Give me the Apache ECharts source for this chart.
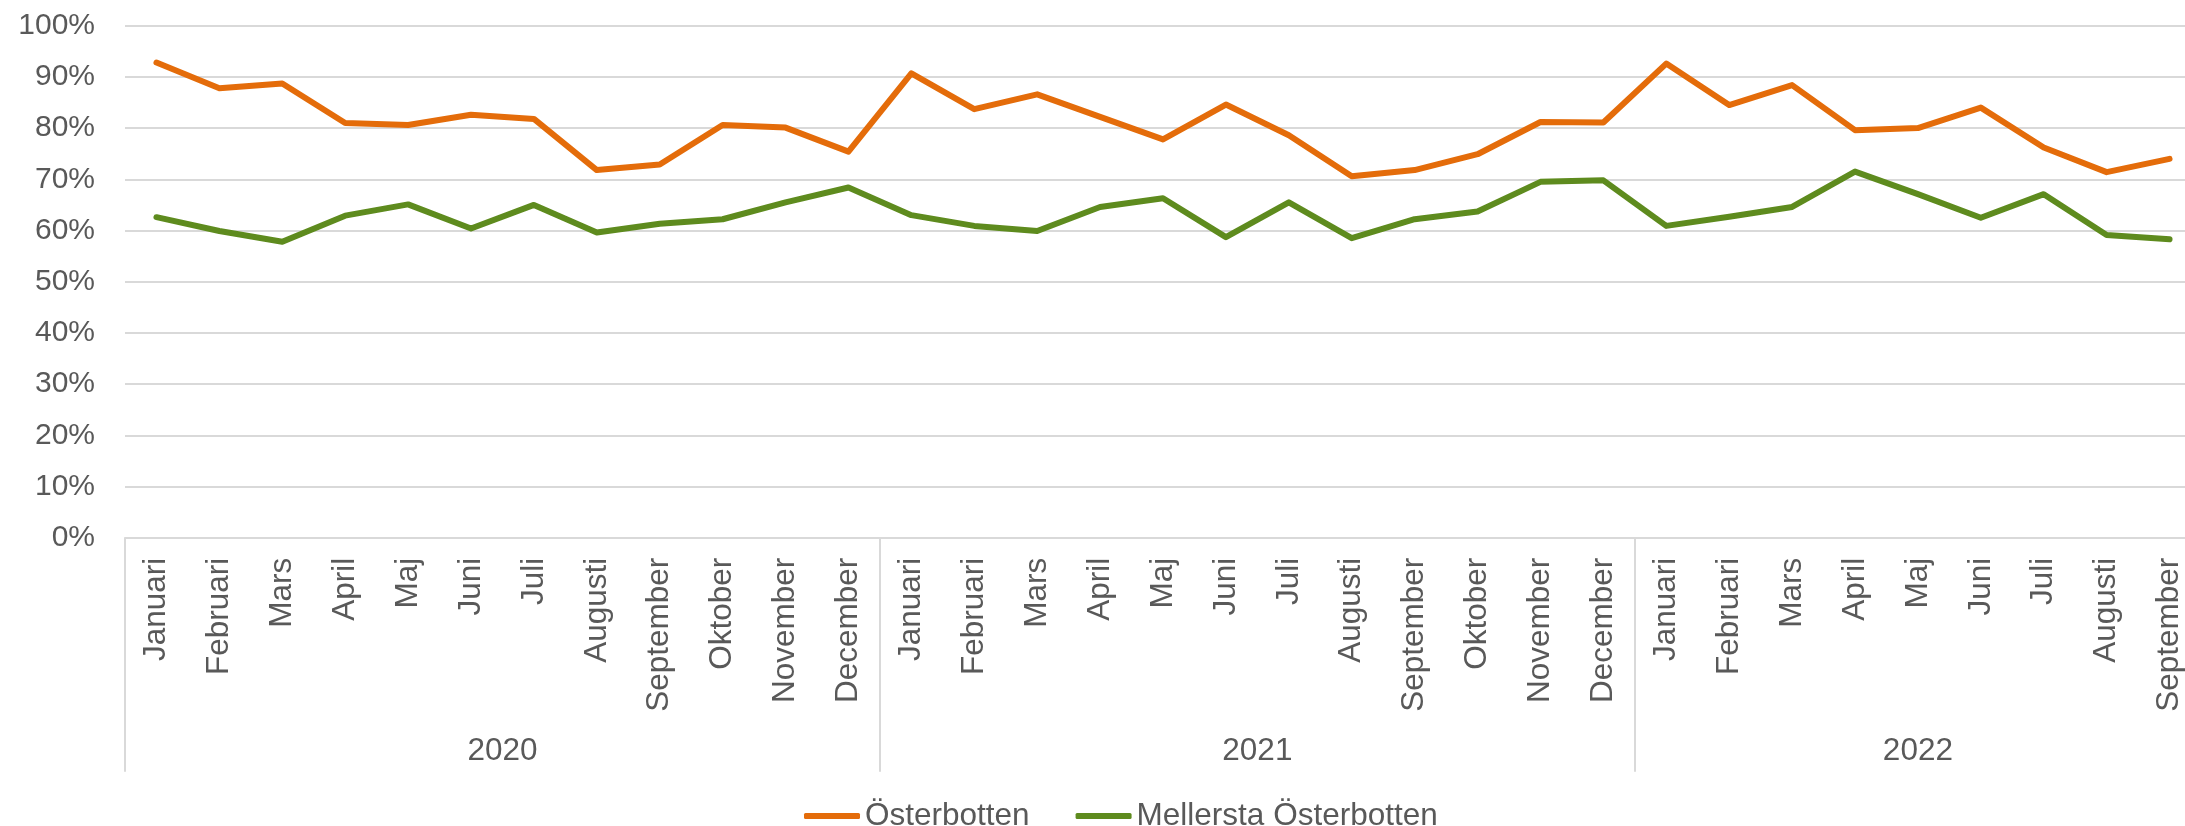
<!DOCTYPE html>
<html>
<head>
<meta charset="utf-8">
<script src="https://cdn.jsdelivr.net/npm/echarts@6/dist/echarts.min.js"></script>
<style>
html,body{margin:0;padding:0;background:#fff;overflow:hidden;width:2185px;height:826px;}
#chart{width:2201px;height:826px;}
</style>
</head>
<body>
<div id="chart"></div>
<script>
var monthNames = ['Januari','Februari','Mars','April','Maj','Juni','Juli','Augusti','September','Oktober','November','December'];
var years = ['2020','2021','2022'];
var monthsPerYear = [12, 12, 9];
var yTicks = [0,10,20,30,40,50,60,70,80,90,100];

var osterbotten = [92.8,87.8,88.7,81.0,80.6,82.6,81.8,71.8,72.9,80.6,80.1,75.4,
                   90.7,83.7,86.6,82.2,77.8,84.6,78.6,70.6,71.8,74.9,81.2,81.1,
                   92.6,84.5,88.4,79.6,80.0,84.0,76.2,71.4,74.0];
var mellersta   = [62.6,59.9,57.8,62.9,65.1,60.4,65.0,59.6,61.3,62.2,65.5,68.4,
                   63.0,60.9,59.9,64.6,66.3,58.7,65.5,58.5,62.2,63.7,69.5,69.8,
                   60.9,62.7,64.6,71.5,67.1,62.5,67.1,59.1,58.3];

var categories = [];
var yearStarts = [];
var yearCenters = [];
var pos = 0;
for (var y = 0; y < years.length; y++) {
  yearStarts.push(pos);
  yearCenters.push(pos + monthsPerYear[y] / 2);
  for (var m = 0; m < monthsPerYear[y]; m++) categories.push(monthNames[m]);
  pos += monthsPerYear[y];
}
var totalSlots = pos;

var FONT = '"Liberation Sans", Arial, sans-serif';
var TXT = '#595959';
var GRID = '#d9d9d9';

var chart = echarts.init(document.getElementById('chart'), null, {renderer: 'canvas'});
chart.setOption({
  animation: false,
  backgroundColor: '#ffffff',
  textStyle: {fontFamily: FONT},
  grid: {left: 125, top: 25.7, right: 0, bottom: 288.3, containLabel: false},
  legend: {
    left: 799, top: 795,
    itemWidth: 56, itemHeight: 6, itemGap: 46,
    icon: 'roundRect',
    textStyle: {color: TXT, fontSize: 31.5, fontFamily: FONT},
    data: ['Österbotten', 'Mellersta Österbotten']
  },
  xAxis: [{
    type: 'category',
    data: categories,
    boundaryGap: true,
    axisLine: {show: true, lineStyle: {color: GRID, width: 2}},
    axisTick: {show: false},
    axisLabel: {interval: 0, rotate: 90, margin: 20, color: TXT, fontSize: 31.5, fontFamily: FONT}
  }, {
    type: 'value',
    position: 'bottom',
    min: 0, max: totalSlots,
    axisLine: {show: false},
    splitLine: {show: false},
    axisTick: {show: true, customValues: yearStarts, length: 234, lineStyle: {color: GRID, width: 2}},
    axisLabel: {
      customValues: [yearCenters[0], yearCenters[1], yearStarts[2] + 4.5],
      margin: 198,
      color: TXT, fontSize: 31.5, fontFamily: FONT,
      formatter: function (v) {
        return years[Math.min(years.length - 1, Math.floor(v / 12))];
      }
    }
  }],
  yAxis: {
    type: 'value',
    min: yTicks[0], max: yTicks[yTicks.length - 1], interval: 10,
    axisLine: {show: false},
    axisTick: {show: false},
    splitLine: {show: true, lineStyle: {color: GRID, width: 2}},
    axisLabel: {margin: 30, color: TXT, fontSize: 30, fontFamily: FONT, formatter: '{value}%'}
  },
  series: [{
    name: 'Österbotten',
    type: 'line',
    data: osterbotten,
    symbol: 'none',
    smooth: false,
    color: '#E46C0A',
    lineStyle: {width: 6, color: '#E46C0A', cap: 'round', join: 'round'}
  }, {
    name: 'Mellersta Österbotten',
    type: 'line',
    data: mellersta,
    symbol: 'none',
    smooth: false,
    color: '#5E8B1E',
    lineStyle: {width: 6, color: '#5E8B1E', cap: 'round', join: 'round'}
  }]
});
</script>
</body>
</html>
